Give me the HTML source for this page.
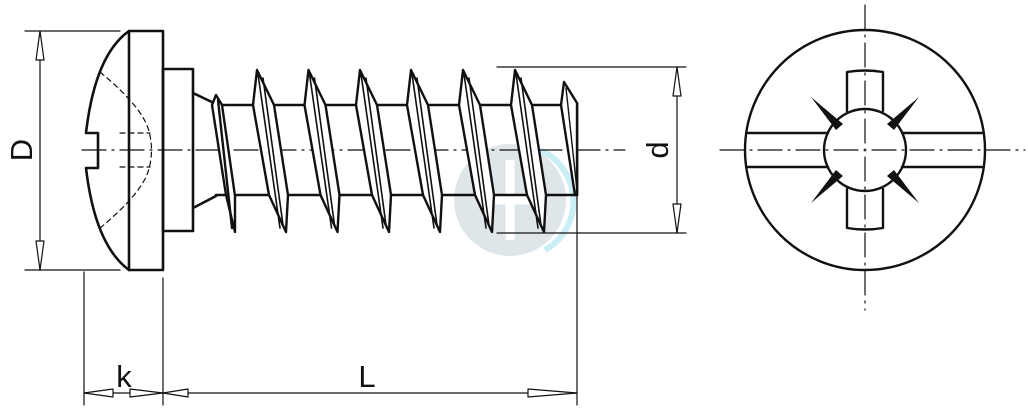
<!DOCTYPE html>
<html><head><meta charset="utf-8"><style>
html,body{margin:0;padding:0;background:#fff;}
svg{display:block;}
text{font-family:"Liberation Sans",sans-serif;fill:#111;}
</style></head><body>
<svg width="1028" height="410" viewBox="0 0 1028 410" xmlns="http://www.w3.org/2000/svg">
<!-- watermark -->
<circle cx="510" cy="200" r="56" fill="#dfe6ea"/>
<path d="M540 150 A56 56 0 0 1 545 250" stroke="#c9eef5" stroke-width="6" fill="none"/>
<g stroke="#fff" stroke-width="9"><line x1="510" y1="160" x2="510" y2="240"/><line x1="480" y1="200" x2="540" y2="200"/></g>

<g fill="none" stroke="#111" stroke-linecap="round" stroke-linejoin="round">
<!-- center lines -->
<g stroke-width="1.2" stroke-dasharray="24,6,2,6">
<line x1="82" y1="150" x2="625" y2="150"/>
<line x1="720" y1="150" x2="1025" y2="150"/>
<line x1="865" y1="5" x2="865" y2="310"/>
</g>
<!-- D dimension -->
<g stroke-width="1.2">
<line x1="25" y1="31" x2="120" y2="31"/><line x1="25" y1="270" x2="120" y2="270"/>
<line x1="40" y1="31" x2="40" y2="270"/>
<polygon points="40,31 36,60 44,60" fill="#fff"/>
<polygon points="40,270 36,241 44,241" fill="#fff"/>
<!-- d dimension -->
<line x1="497" y1="67" x2="686" y2="67"/><line x1="497" y1="233" x2="686" y2="233"/>
<line x1="677" y1="67" x2="677" y2="233"/>
<polygon points="677,67 673,96 681,96" fill="#fff"/>
<polygon points="677,233 673,204 681,204" fill="#fff"/>
<!-- k, L -->
<line x1="84" y1="272" x2="84" y2="405"/><line x1="163" y1="278" x2="163" y2="405"/>
<line x1="577" y1="196" x2="577" y2="405"/>
<line x1="84" y1="393" x2="577" y2="393"/>
<polygon points="84,393 113,389 113,397" fill="#fff"/>
<polygon points="163,393 130,389 130,397" fill="#fff"/>
<polygon points="163,393 188,389 188,397" fill="#fff"/>
<polygon points="577,393 528,389 528,397" fill="#fff"/>
</g>
<!-- head -->
<g stroke-width="2.6">
<path d="M129 31 Q95 55 86 133 L98 133 L98 168 L86 168 Q95 245 129 270"/>
<rect x="129" y="31" width="34" height="239"/>
<rect x="163" y="69" width="30" height="162"/>
<path d="M193 93 L216 104 M193 208 L216 196"/>
<line x1="216" y1="105" x2="577" y2="105"/>
<line x1="216" y1="195" x2="577" y2="195"/>
<line x1="577" y1="103" x2="577" y2="195"/>
</g>
<g stroke-width="1.2" stroke-dasharray="5,4">
<path d="M100 72 Q140 105 148 128 Q155 150 148 172 Q140 195 100 228"/>
<line x1="120" y1="133" x2="150" y2="133"/><line x1="120" y1="167" x2="150" y2="167"/>
</g>
<!-- threads -->
<g stroke-width="2.4" fill="#fff">
<path d="M216 95 L212 105 L226 195 L235 232 L235 196 L222 105 Z"/>
<line x1="218" y1="100" x2="232" y2="228"/>
</g>
<g stroke-width="2.4">
<g id="th" fill="#fff">
<path d="M257 70 L253 105 L269 195 L286 232 L288 195 L274 105 Z"/>
<path d="M258 74 L280 228" fill="none" stroke-width="1.6"/>
<path d="M263 78 L283 225" fill="none" stroke-width="1.6"/>
</g>
<use href="#th" x="51.5"/><use href="#th" x="103"/><use href="#th" x="154"/><use href="#th" x="206"/><use href="#th" x="258"/>
<path d="M564 82 L577 103 L577 195 L575 195 L561 105 Z" fill="#fff"/>
<path d="M566 88 L577 190" stroke-width="1.4"/>
</g>
<!-- right view -->
<g stroke-width="2.4">
<circle cx="865" cy="150" r="120"/>
<path d="M748 133 L828 133 M902 133 L982 133 M748 167 L828 167 M902 167 L982 167"/>
<path d="M847 111 L847 72 Q865 69 883 72 L883 111 M847 189 L847 228 Q865 231 883 228 L883 189"/>
<circle cx="865" cy="150" r="41"/>
</g>
<g fill="#111" stroke="none">
<polygon points="811,97 843,124 836,130"/>
<polygon points="919,97 887,124 894,130"/>
<polygon points="811,203 843,176 836,170"/>
<polygon points="919,203 887,176 894,170"/>
</g>
</g>
<text x="32" y="150" font-size="31" transform="rotate(-90 32 150)" text-anchor="middle">D</text>
<text x="668" y="150" font-size="31" transform="rotate(-90 668 150)" text-anchor="middle">d</text>
<text x="124" y="387" font-size="31" text-anchor="middle">k</text>
<text x="367" y="387" font-size="31" text-anchor="middle">L</text>
</svg>
</body></html>
